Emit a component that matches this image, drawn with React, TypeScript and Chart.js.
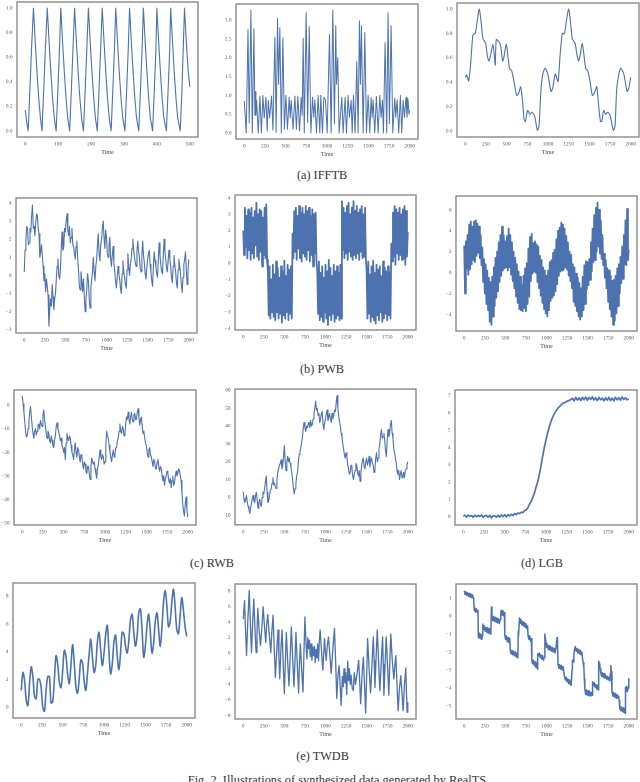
import React, { useEffect, useRef } from "react";
import { Chart, registerables } from "chart.js";

Chart.register(...registerables);

type Pair = [number, number];

const LINE_COLOR = "#4c72b0";
const SERIF = '"Liberation Serif", serif';

const ifftb1Points: Pair[] = [[0,.17],[4,.08],[9,0],[14,.32],[19,.66],[25,1],[31,.7],[36,.47],[41,.27],[46,.11],[51,0],[56,.32],[61,.66],[67,1],[73,.7],[78,.47],[83,.27],[88,.11],[94,0],[99,.32],[104,.66],[108,1],[114,.7],[119,.47],[124,.27],[129,.11],[135,0],[140,.32],[145,.66],[150,1],[156,.7],[161,.47],[166,.27],[171,.11],[177,0],[182,.32],[187,.66],[192,1],[198,.7],[203,.47],[208,.27],[213,.11],[219,0],[224,.32],[229,.66],[234,1],[240,.7],[245,.47],[250,.27],[255,.11],[261,0],[266,.32],[271,.66],[275,1],[281,.7],[286,.47],[291,.27],[296,.11],[303,0],[308,.32],[313,.66],[317,1],[323,.7],[328,.47],[333,.27],[338,.11],[345,0],[350,.32],[355,.66],[359,1],[365,.7],[370,.47],[375,.27],[380,.11],[387,0],[392,.32],[397,.66],[400,1],[406,.7],[411,.47],[416,.27],[421,.11],[429,0],[434,.32],[439,.66],[442,1],[448,.7],[453,.47],[458,.27],[463,.11],[471,0],[476,.32],[480,.66],[484,1],[490,.7],[495,.5],[500,.36]];

const ifftb2Points: Pair[] = [[0,.85],[24,0],[45,2.75],[60,.27],[80,3.27],[97,0],[117,2.77],[128,.47],[137,1.1],[141,.47],[149,.87],[169,0],[189,.98],[207,0],[225,1],[241,.4],[262,.95],[277,.05],[290,.87],[306,.4],[330,.98],[346,.08],[370,2.55],[385,.02],[402,3.05],[415,1.3],[430,2.8],[448,0],[467,2.53],[485,.1],[503,1],[522,.1],[543,.95],[555,.4],[567,.87],[590,.1],[612,.98],[630,.1],[648,.98],[668,.05],[688,.95],[700,.47],[712,2.52],[725,0],[748,3.2],[766,.28],[785,2.83],[805,0],[825,.95],[840,.42],[853,.88],[873,0],[893,1],[913,0],[925,1],[945,0],[962,.95],[982,.88],[1002,0],[1030,2.62],[1050,0],[1070,3.27],[1090,.25],[1106,2.85],[1115,1.3],[1130,2],[1147,0],[1179,.95],[1195,0],[1219,.95],[1235,0],[1255,1],[1271,.42],[1292,.87],[1304,0],[1320,1],[1340,0],[1360,1.9],[1376,0],[1392,2.98],[1404,1.3],[1416,2.85],[1437,0],[1457,2.67],[1477,0],[1497,1],[1517,0],[1533,.94],[1545,.42],[1557,.88],[1577,0],[1597,.97],[1618,0],[1638,1],[1654,.42],[1670,.87],[1682,0],[1702,2.4],[1722,0],[1738,3.2],[1754,.25],[1775,2.85],[1795,0],[1819,.93],[1831,.42],[1847,.88],[1867,0],[1887,1],[1903,0],[1920,.87],[1936,.42],[1955,.95],[1967,.42],[1979,.9],[1991,.5],[2000,.6]];

const ifftb3Points: Pair[] = [[0,.44],[16,.46],[40,.41],[65,.55],[93,.79],[121,.8],[145,.905],[169,1],[194,.88],[214,.757],[246,.72],[266,.62],[286,.573],[310,.635],[335,.708],[351,.62],[363,.54],[375,.75],[407,.73],[427,.7],[452,.573],[468,.61],[496,.714],[516,.61],[536,.51],[560,.495],[589,.405],[621,.29],[645,.31],[669,.362],[690,.257],[710,.1],[726,.076],[754,.168],[782,.135],[806,.154],[839,.12],[871,.005],[891,.04],[915,.338],[935,.46],[964,.514],[996,.47],[1036,.324],[1056,.35],[1089,.468],[1121,.405],[1145,.61],[1173,.8],[1198,.797],[1226,.92],[1250,1],[1274,.88],[1294,.757],[1327,.72],[1351,.62],[1371,.573],[1391,.635],[1415,.716],[1435,.62],[1456,.513],[1480,.495],[1508,.405],[1536,.29],[1560,.31],[1589,.362],[1609,.23],[1633,.08],[1649,.076],[1673,.168],[1698,.135],[1722,.154],[1750,.13],[1790,.005],[1810,.04],[1830,.338],[1855,.46],[1879,.514],[1915,.47],[1956,.324],[1976,.35],[2000,.44]];

const pwb1Values = [
  .2,1.4,1.9,2.7,2.6,1.7,1.8,2.6,2.4,3.3,3.9,2.6,2.7,2.2,2.9,3.4,3.3,2.6,2.3,1,
  1.3,1.7,1.1,.5,-.3,.1,-.9,-.2,-.6,-1.1,-2.8,-1.9,-1.3,-1.7,-.5,-1.2,-1.9,-1.3,-1,-.2,
  .5,.9,0,-.2,.3,1.5,2.4,1.4,1.5,2.6,2.4,3,3.4,2.5,2.2,2.7,1.8,2.1,2.6,1.7,
  1.6,1.2,.9,1.6,1.9,.9,.3,-.6,-.8,.2,-.3,-.9,-.2,-1.1,-2,-1.3,-.8,.1,-.3,-1.3,
  -1.8,-.7,-.2,.2,1,.2,-.3,.5,.9,1.7,2.3,1.2,.8,1.7,2,2.6,3,2.1,1.5,2.5,
  2.1,1.2,1,1.7,2.1,1,.5,1.1,1.6,.7,.2,-.3,-.7,-.1,.5,.1,-.2,-.7,-1,.1,
  .8,.2,-.1,-.5,-.7,.3,1.2,.5,0,.6,.9,1.5,2,1.4,1,.7,.5,1.3,1.9,1.3,
  1,.4,.2,1.1,1.9,1.1,.7,.1,-.2,.4,.9,1.2,1.4,.6,.2,-.3,-.6,.5,1.3,.8,
  .5,.1,-.1,.9,1.8,1.1,.6,.2,.1,1.1,2,1.3,.9,.4,.2,.9,1.4,.9,.5,-.1,
  -.4,.5,1.1,.6,.2,-.4,-.7,.3,.9,.5,.1,-.5,-.95,-.1,.6,.9,1.3,.3,-.5,.2,.9,
];

const pwb2Values = [
  2,.5,3.4,1,2.9,.3,3.3,.8,3.1,.2,3.4,.6,2.8,.3,3.2,1.1,3.7,.4,3,.2,3.3,.7,3.2,-.2,2.8,.5,3.4,.3,3.6,.2,
  -.5,-3.2,-.2,-3.4,-1,-3,-.1,-3.3,-.7,-3.5,.1,-3,-.3,-3.4,-.9,-3.1,-.2,-3.65,-.5,-3.2,.15,-3.4,-.8,-3,-.1,-3.5,-.4,-3.1,-.2,-3.4,
  1.8,.3,3.2,.7,3.4,.2,2.9,.9,3.5,.3,3.1,.1,3.4,.6,3,.4,3.5,.2,3.2,.8,3.4,.1,2.9,.5,3.3,-.2,3,.6,3.1,.1,
  -.4,-3.1,.1,-3.5,-.6,-3.3,-.2,-3.6,-.9,-3,-.1,-3.4,-.5,-3.8,.2,-3.2,-.3,-3.5,-.8,-3.1,-.1,-3.6,-.5,-3.4,-.2,-3.2,-.6,-3.5,-.1,-3.4,
  3.8,.8,3.4,.3,3.1,.6,3.5,.2,3.7,.7,3,.4,3.4,.2,3.8,.5,3.2,.3,3.5,.6,3.1,.2,3.3,.7,3.5,.3,3,.4,3.4,.3,
  -.5,-3.4,.1,-3.1,-.7,-3.6,-.2,-3.3,.15,-3.5,-.6,-3.7,-.1,-3.2,-.4,-3.5,-.2,-3,-.8,-3.6,.1,-3.4,-.3,-3.1,-.5,-3.5,-.2,-3.2,-.6,-3.4,
  1.2,.1,3.1,.4,3.5,-.1,3.3,.6,3.1,.2,3.4,.5,3,.2,3.3,.3,3.5,-.1,3.2,.4,1.9,
];

const pwb3Values = [
  2.6,-2,3,.4,3.6,-.2,4.6,.3,4.9,.8,4.4,1.2,4.9,1,5,1.6,4.7,1.9,4.4,1.4,3.6,.7,
  2.4,-.9,1.3,-2,.8,-3,.2,-3.6,-.5,-4.7,-.9,-5,-.4,-4.2,.5,-3.2,1.4,-2.4,
  2,-1.8,2.9,-.9,3.6,-.3,4.4,.2,3.6,.4,3,.5,3.5,.2,4.2,.5,3.6,-.2,2.9,-.8,
  2,-1.5,1.4,-2.3,.8,-2.9,.1,-3.5,-.4,-3.6,-1.2,-3.7,-.3,-3.4,.4,-3.7,.9,-3,2.3,-2.3,
  3.4,-.8,3.7,-.1,2.8,.1,3,0,2.7,-.9,2.5,-1.5,1.6,-2.2,1.2,-2.9,.5,-3.5,.2,-3.9,
  -.3,-4.2,.2,-3.6,1,-2.7,1.2,-2.4,1.9,-2.2,2.2,-1.8,3.2,-1.1,4,-.3,4.3,.1,4.8,.2,
  4.6,.3,4.2,.5,3.5,.3,2.9,-.3,2,-.8,1.7,-1.5,.8,-2.8,.5,-3.2,-.1,-3.7,-.5,-4.2,
  -1,-4.5,-1.5,-4.2,-.4,-3.6,.7,-3,1.1,-1.6,1,-1.2,1.3,-.7,2.9,.1,4.2,1,5.5,1.2,
  6.2,2,6.7,2.5,6,1.8,5,1.3,3.6,.7,1.8,-.5,1.2,-1.5,.4,-2.8,.2,-3.5,-.3,-4.2,
  -.8,-5,-.7,-4.6,-.3,-3.9,.4,-3.2,.8,-2,1.5,-1,2.5,-.6,3.6,.8,5,.7,6.1,1.2,2.2,
];

const rwb1Values = [
  4,.5,-3,-7,-11,-13.5,-13,-10,-7,-3,-.5,-5,-9,-12,-14,-11,-10,-12.5,-11,-8.5,
  -8,-10,-6.5,-8,-9,-4,-2,-6,-9,-12,-14,-11,-12,-15,-16,-13,-15,-17,-18,-15,
  -13,-9,-7.5,-10,-11,-13,-15,-14,-17,-18,-20,-18,-23,-16,-12,-14,-15,-13,-14,-17,
  -20,-21,-23,-19,-16,-20,-22,-18,-19,-22,-24,-21,-22,-25,-27,-24,-25,-28,-29,-26,
  -26,-29,-31.5,-26,-22.5,-24,-25,-24,-27,-29,-31,-27,-25,-22,-19,-22,-23,-21,-22,-25,
  -24,-17,-11,-13,-14,-17,-20,-22,-24,-21,-19,-22,-21,-18,-18,-15,-14,-11,-8,-11,
  -12,-9,-10,-13,-12.5,-8,-5,-6,-3,-6,-8,-5,-3,-6,-7,-4,-3.5,-6,-6,-3,
  -1.5,-5,-8.5,-6,-5,-9,-12,-11,-14,-16,-17,-20,-22,-19,-18,-21,-22,-24,-26,-23,
  -24,-27,-27,-24,-23,-26,-28,-26,-27,-30,-32,-30,-34,-31,-30,-28,-29,-32,-33,-31,
  -35,-32,-30,-34,-33,-30,-28,-30,-29,-27,-27.5,-30,-32,-37,-42,-45,-47,-42,-39,-44,-47.5,
];

const rwb2Values = [
  3,-1,-3,-1,1,-3,-5,-7,-9,-6,-3,-1,1,-2,-3,1,3,-2,-6,-3,
  -1,-4,-5,0,3,2,5,9,12,3,-3,-2,1,4,5,8,11,7,8,6,
  5,10,14,16,18,19,21,16,18,23,29,20,15,20,23,20,22,19,17,14,
  10,5,2,5,8,12,14,20,24,26,28,31,34,39,42,39,37,40,39,41,
  42,39,43,40,41,44,47,50,54,49,50,46,47,42,44,47,48,41,38,42,
  44,47,49,43,45,47,44,42,47,44,46,49,48,53,57,50,46,43,40,36,
  34,30,27,24,22,25,23,18,16,13,14,18,17,12,10,13,15,19,18,14,
  12,15,9,14,18,21,22,17,16,20,22,18,20,23,17,21,22,19,18,14,
  15,22,25,20,22,27,30,35,38,33,34,36,32,26,23,32,38,34,36,41,
  43,36,33,27,25,22,19,15,13,15,10,13,15,11,12,14,11,15,16,18,20,
];

const lgbValues = [.02,.06,-.04,.08,0,.05,-.05,.07,-.02,.06,0,.08,-.06,.04,.05,-.05,.06,-.08,.03,.04,-.05,.07,-.04,.08,-.01,.09,-.03,.1,.02,.12,.05,.16,.1,.2,.16,.24,.22,.33,.36,.5,.7,.85,1.1,1.35,1.7,2,2.45,2.95,3.5,4,4.45,4.85,5.2,5.5,5.75,5.95,6.1,6.25,6.35,6.45,6.55,6.6,6.62,6.7,6.72,6.78,6.85,6.7,6.9,6.75,6.88,6.72,6.9,6.76,6.92,6.74,6.9,6.78,6.93,6.75,6.88,6.72,6.9,6.76,6.86,6.7,6.88,6.74,6.9,6.72,6.86,6.7,6.9,6.76,6.88,6.74,6.92,6.78,6.88,6.76,6.82];

const twdb1Values = [1.2,2.5,1.9,.5,.1,1.7,2.9,2.2,.8,.6,2,2,1.4,0,-.3,1.2,2.2,2.2,.3,.4,2,3.7,3.1,1.8,1.4,2.6,4.1,3.7,2.4,1.7,3,4.5,3.2,1.5,1,2,3.4,3.2,1.9,1.2,2.4,3.8,4.9,3.6,2.5,3,4.7,5.4,4.1,3,3.9,5.2,5.9,4,2.4,3.1,4.7,5.2,3.7,2.7,3.9,5.4,5.3,4.4,3.9,4.8,6.3,6.7,5.4,4.4,5.1,6.8,7.1,5.6,3.6,4.4,5.9,6.7,5.4,3.9,4.6,6.2,6.8,5.6,4.4,5.7,7.6,8.4,7.3,5.8,6.2,7.6,8.5,7.2,5.6,5.3,6.6,7.9,7,5.8,5.1];

const twdb2Points: Pair[] = [[0,4.4],[16,6.8],[28,3],[40,-.3],[55,4],[73,8.1],[88,3.5],[100,.1],[115,4],[129,7],[143,3],[157,.1],[167,2.5],[177,5.8],[193,3],[210,1],[226,3.2],[242,6],[258,3.5],[274,1.4],[286,3.8],[298,5],[316,2.5],[335,.1],[349,3],[363,4.9],[377,.5],[391,-3.1],[407,.2],[423,3],[434,-.5],[444,-3.3],[458,.5],[472,3],[486,-1.5],[500,-5.2],[512,-1],[524,2.7],[540,-1],[556,-4.2],[570,-.5],[585,3.4],[601,-.7],[617,-4.3],[629,-1],[641,2.7],[657,-1.5],[673,-5.1],[683,-1.5],[694,1.2],[710,-2],[726,-5],[738,0],[750,4.7],[762,1.5],[774,-.7],[785,2],[795,.6],[805,1.7],[815,-.4],[825,1.2],[835,-.9],[845,.8],[855,-.3],[865,.9],[875,-1.2],[885,.5],[895,-.6],[905,1.2],[915,-1],[925,1.5],[935,3],[950,.5],[968,-2.2],[978,0],[988,1.9],[998,.2],[1008,-.9],[1022,1],[1036,2.1],[1052,0],[1069,-2.6],[1089,.5],[1109,3.2],[1123,-1],[1137,-5.8],[1150,-3],[1165,-1.6],[1178,-4],[1190,-6.7],[1205,-3],[1215,-4.3],[1225,-2],[1235,-3.8],[1245,-2.5],[1258,-5.3],[1270,-1],[1280,-3.5],[1290,-2],[1300,-4],[1310,-2.8],[1325,-4.5],[1339,-4.8],[1350,-2.5],[1365,-4],[1385,-2.5],[1403,-.9],[1415,-3.5],[1427,-6.5],[1443,-3],[1460,-.5],[1474,-4],[1488,-7.7],[1500,-3],[1512,1.9],[1530,-2],[1548,-5.1],[1565,-1.5],[1581,2.1],[1591,-1],[1601,-4.4],[1615,-.5],[1629,3],[1645,-1],[1661,-4.8],[1678,-1],[1694,2.1],[1702,-1.5],[1710,-5.4],[1724,-1.5],[1738,2.1],[1754,-1.5],[1770,-5.4],[1782,-1],[1794,2.5],[1812,-1],[1831,-3.3],[1843,-1.5],[1855,-.3],[1869,-4],[1883,-7.4],[1899,-4.5],[1915,-2.9],[1929,-5],[1944,-7.4],[1960,-4],[1976,-1.9],[1984,-5],[1992,-7.6],[2000,-6.3]];

const twdb3Points: Pair[] = [[0,1.4],[10,1.2],[20,1.35],[30,1.15],[40,1.3],[50,1.1],[60,1.25],[70,1.05],[80,1.22],[90,1.02],[100,1.18],[109,1],[115,.95],[122,.3],[130,.45],[140,.22],[150,.4],[160,.2],[167,.3],[172,-1.2],[182,-.95],[192,-1.25],[202,-1],[212,-1.3],[222,-1.05],[226,-.45],[236,-.75],[246,-.55],[256,-.85],[266,-.65],[276,-.92],[286,-.65],[296,-.95],[306,-.7],[316,-1],[324,-.85],[331,.5],[337,-.05],[347,-.25],[357,-.02],[367,-.3],[377,-.07],[387,-.33],[397,-.1],[407,-.37],[417,-.15],[427,-.42],[437,-.2],[444,.1],[450,.33],[460,.05],[470,.3],[480,.02],[488,.2],[493,-1.05],[503,-1.3],[513,-1.1],[523,-1.42],[533,-1.2],[543,-1.48],[553,-1.25],[560,-1.9],[570,-2.1],[580,-1.9],[590,-2.15],[600,-1.95],[610,-2.2],[620,-2],[630,-2.27],[640,-2.05],[652,-2.32],[657,-.85],[660,-1.1],[672,-.1],[680,-.4],[690,-.2],[700,-.5],[710,-.3],[720,-.55],[730,-.35],[740,-.62],[750,-.42],[760,-.7],[770,-.55],[776,-1.1],[786,-1.3],[796,-1.1],[806,-1.4],[816,-1.25],[822,-2.5],[832,-2.65],[842,-2.45],[852,-2.75],[862,-2.55],[872,-2.85],[882,-2.65],[890,-2.95],[893,-2.1],[903,-2.2],[913,-2.05],[923,-2.3],[933,-2.15],[943,-2.4],[953,-2.2],[963,-2.45],[973,-2.3],[980,-1],[986,-1.2],[994,-1.5],[1002,-1.75],[1012,-1.6],[1022,-1.85],[1032,-1.65],[1042,-1.9],[1052,-1.7],[1062,-1.95],[1072,-1.75],[1082,-2],[1092,-1.8],[1102,-2.05],[1112,-1.85],[1120,-1.6],[1128,-1.2],[1134,-1.5],[1140,-2.7],[1150,-2.9],[1160,-2.7],[1170,-2.95],[1180,-2.75],[1190,-3],[1200,-2.8],[1210,-3.05],[1220,-3.4],[1230,-3.55],[1240,-3.4],[1250,-3.65],[1260,-3.5],[1270,-3.75],[1280,-3.55],[1290,-3.8],[1300,-3.85],[1310,-3],[1315,-2.45],[1325,-2.55],[1332,-2.2],[1340,-1.85],[1350,-1.7],[1360,-1.95],[1370,-1.8],[1380,-2.05],[1390,-1.85],[1400,-2.1],[1410,-1.9],[1420,-2.15],[1430,-2],[1438,-2.35],[1446,-2.6],[1454,-2.85],[1460,-3.5],[1466,-4.05],[1476,-4.35],[1486,-4.1],[1496,-4.4],[1506,-4.15],[1516,-4.42],[1526,-4.2],[1536,-4.45],[1546,-4.25],[1554,-4.4],[1560,-3.65],[1570,-3.85],[1580,-3.7],[1590,-3.95],[1600,-3.8],[1610,-4.05],[1620,-3.85],[1627,-4.1],[1631,-2.5],[1637,-2.75],[1645,-2.6],[1653,-2.95],[1661,-3.2],[1670,-3.35],[1680,-3.15],[1690,-3.4],[1700,-3.2],[1710,-3.45],[1720,-3.3],[1730,-3.5],[1740,-3.35],[1750,-3.55],[1760,-3.4],[1770,-3.6],[1776,-3.2],[1782,-2.75],[1788,-3.1],[1796,-4.2],[1806,-4.45],[1816,-4.25],[1826,-4.5],[1836,-4.3],[1846,-4.55],[1856,-4.35],[1866,-4.55],[1876,-4.45],[1884,-4.7],[1890,-5.1],[1900,-5.25],[1910,-5.05],[1920,-5.3],[1930,-5.1],[1940,-5.35],[1950,-5.15],[1956,-5.4],[1960,-3.95],[1968,-4.15],[1976,-3.9],[1984,-4.2],[1992,-4],[2000,-3.45]];

const atStep = (values: number[], step: number): Pair[] => values.map((v, i) => [i * step, v]);

const shortTimeTicks = [0, 100, 200, 300, 400, 500];
const longTimeTicks = [0, 250, 500, 750, 1000, 1250, 1500, 1750, 2000];
const unitTicks = [0, 0.2, 0.4, 0.6, 0.8, 1];
const ifftb2Ticks = [0, 0.5, 1, 1.5, 2, 2.5, 3];
const pwb1Ticks = [-3, -2, -1, 0, 1, 2, 3, 4];
const pwb2Ticks = [-4, -3, -2, -1, 0, 1, 2, 3, 4];
const pwb3Ticks = [-4, -2, 0, 2, 4, 6];
const rwb1Ticks = [-50, -40, -30, -20, -10, 0];
const rwb2Ticks = [-10, 0, 10, 20, 30, 40, 50, 60];
const lgbTicks = [0, 1, 2, 3, 4, 5, 6, 7];
const twdb1Ticks = [0, 2, 4, 6, 8];
const twdb2Ticks = [-8, -6, -4, -2, 0, 2, 4, 6, 8];
const twdb3Ticks = [-5, -4, -3, -2, -1, 0, 1];

const captions = [
  { text: "(a) IFFTB", cx: 322, cy: 175 },
  { text: "(b) PWB", cx: 322, cy: 369 },
  { text: "(c) RWB", cx: 212, cy: 563 },
  { text: "(d) LGB", cx: 542, cy: 563 },
  { text: "(e) TWDB", cx: 322.5, cy: 756 },
];
const figureCaption = "Fig. 2. Illustrations of synthesized data generated by RealTS.";

type PanelSpec = {
  points: Pair[];
  box: [number, number, number, number];
  xRange: [number, number];
  xTicks: number[];
  yRange: [number, number];
  yTicks: number[];
  decimals: number;
  width: number;
  tension?: number;
};

const LONG_X: [number, number] = [-100, 2100];

const panels: PanelSpec[] = [
  { points: ifftb1Points, box: [16.5, 1.5, 198, 137], xRange: [-25, 525], xTicks: shortTimeTicks, yRange: [-0.05, 1.05], yTicks: unitTicks, decimals: 1, width: 1.1 },
  { points: ifftb2Points, box: [236, 3.5, 418, 138.5], xRange: LONG_X, xTicks: longTimeTicks, yRange: [-0.16, 3.43], yTicks: ifftb2Ticks, decimals: 1, width: 1 },
  { points: ifftb3Points, box: [457, 2.5, 639, 137], xRange: LONG_X, xTicks: longTimeTicks, yRange: [-0.05, 1.05], yTicks: unitTicks, decimals: 1, width: 1.1, tension: 0.25 },
  { points: atStep(pwb1Values, 10), box: [16, 197.5, 197, 332.5], xRange: LONG_X, xTicks: longTimeTicks, yRange: [-3.18, 4.28], yTicks: pwb1Ticks, decimals: 0, width: 1.1 },
  { points: atStep(pwb2Values, 10), box: [234.5, 195, 416, 330], xRange: LONG_X, xTicks: longTimeTicks, yRange: [-4.1, 4.18], yTicks: pwb2Ticks, decimals: 0, width: 1.8 },
  { points: atStep(pwb3Values, 10), box: [455.5, 195.5, 637, 331], xRange: LONG_X, xTicks: longTimeTicks, yRange: [-5.59, 7.33], yTicks: pwb3Ticks, decimals: 0, width: 1.8 },
  { points: atStep(rwb1Values, 10), box: [14, 390, 196, 525], xRange: LONG_X, xTicks: longTimeTicks, yRange: [-50.85, 6.48], yTicks: rwb1Ticks, decimals: 0, width: 1.1 },
  { points: atStep(rwb2Values, 10), box: [234.5, 389, 416, 524.5], xRange: LONG_X, xTicks: longTimeTicks, yRange: [-15.4, 60.75], yTicks: rwb2Ticks, decimals: 0, width: 1.1 },
  { points: atStep(lgbValues, 20), box: [455, 390, 637, 525], xRange: LONG_X, xTicks: longTimeTicks, yRange: [-0.5, 7.33], yTicks: lgbTicks, decimals: 0, width: 1.7 },
  { points: atStep(twdb1Values, 20), box: [13, 583, 195, 718], xRange: LONG_X, xTicks: longTimeTicks, yRange: [-0.79, 8.96], yTicks: twdb1Ticks, decimals: 0, width: 1.6, tension: 0.35 },
  { points: twdb2Points, box: [234.5, 583.5, 416, 718.5], xRange: LONG_X, xTicks: longTimeTicks, yRange: [-8.47, 8.94], yTicks: twdb2Ticks, decimals: 0, width: 1.3 },
  { points: twdb3Points, box: [455.5, 584, 637, 719], xRange: LONG_X, xTicks: longTimeTicks, yRange: [-5.72, 1.78], yTicks: twdb3Ticks, decimals: 0, width: 1.5 },
];

const GUTTER_LEFT = 18;
const GUTTER_TOP = 2;
const GUTTER_RIGHT = 2;
const GUTTER_BOTTOM = 24;

const frame = {
  id: "frame",
  afterDatasetsDraw(chart: any) {
    const { ctx, chartArea: a } = chart;
    ctx.save();
    ctx.strokeStyle = "#7f7f7f";
    ctx.lineWidth = 1.3;
    ctx.strokeRect(a.left, a.top, a.right - a.left, a.bottom - a.top);
    ctx.restore();
  },
};

function Panel({ spec }: { spec: PanelSpec }) {
  const ref = useRef<HTMLCanvasElement | null>(null);
  const [l, t, r, b] = spec.box;
  const w = r - l + GUTTER_LEFT + GUTTER_RIGHT;
  const h = b - t + GUTTER_TOP + GUTTER_BOTTOM;
  useEffect(() => {
    const tickFont = { family: SERIF, size: 5.3 };
    const chart = new Chart(ref.current!, {
      type: "line",
      data: {
        datasets: [
          {
            data: spec.points.map(([x, y]) => ({ x, y })),
            borderColor: LINE_COLOR,
            borderWidth: spec.width,
            borderJoinStyle: "round",
            pointRadius: 0,
            tension: spec.tension ?? 0,
            fill: false,
          },
        ],
      },
      options: {
        animation: false,
        responsive: false,
        devicePixelRatio: 2,
        layout: { padding: { left: 0, top: GUTTER_TOP, right: GUTTER_RIGHT, bottom: 0 } },
        plugins: { legend: { display: false }, tooltip: { enabled: false }, title: { display: false } },
        scales: {
          x: {
            type: "linear",
            min: spec.xRange[0],
            max: spec.xRange[1],
            grid: { display: false, drawTicks: false },
            border: { display: false },
            afterBuildTicks: (s: any) => {
              s.ticks = spec.xTicks.map((value) => ({ value }));
            },
            ticks: {
              autoSkip: false,
              maxRotation: 0,
              padding: 4,
              color: "#555555",
              font: tickFont,
              callback: (v: any) => String(v),
            },
            title: { display: true, text: "Time", color: "#444444", font: { family: SERIF, size: 6 }, padding: { top: 0, bottom: 5 } },
            afterFit: (s: any) => {
              s.height = GUTTER_BOTTOM;
              s.paddingLeft = 0;
              s.paddingRight = 0;
            },
          },
          y: {
            type: "linear",
            min: spec.yRange[0],
            max: spec.yRange[1],
            grid: { display: false, drawTicks: false },
            border: { display: false },
            afterBuildTicks: (s: any) => {
              s.ticks = spec.yTicks.map((value) => ({ value }));
            },
            ticks: {
              autoSkip: false,
              padding: 4.5,
              color: "#555555",
              font: tickFont,
              callback: (v: any) => Number(v).toFixed(spec.decimals).replace("-", "\u2212"),
            },
            afterFit: (s: any) => {
              s.width = GUTTER_LEFT;
              s.paddingTop = 0;
              s.paddingBottom = 0;
            },
          },
        },
      } as any,
      plugins: [frame],
    });
    return () => chart.destroy();
  }, []);
  return (
    <canvas
      ref={ref}
      width={w}
      height={h}
      style={{ position: "absolute", left: l - GUTTER_LEFT, top: t - GUTTER_TOP, width: w, height: h }}
    />
  );
}

export default function App() {
  return (
    <div
      style={{
        position: "absolute",
        left: 0,
        top: 0,
        width: 640,
        height: 782,
        overflow: "hidden",
        background: "#ffffff",
        fontFamily: SERIF,
        color: "#333333",
        filter: "blur(0.3px)",
      }}
    >
      {panels.map((spec, i) => (
        <Panel key={i} spec={spec} />
      ))}
      {captions.map((c) => (
        <div
          key={c.text}
          style={{
            position: "absolute",
            left: c.cx - 100,
            top: c.cy - 8,
            width: 200,
            height: 16,
            lineHeight: "16px",
            textAlign: "center",
            fontSize: 12.3,
            whiteSpace: "pre",
          }}
        >
          {c.text}
        </div>
      ))}
      <div
        style={{
          position: "absolute",
          left: 38.5,
          top: 772,
          width: 600,
          height: 16,
          lineHeight: "16px",
          textAlign: "center",
          fontSize: 12.35,
          whiteSpace: "pre",
        }}
      >
        {figureCaption}
      </div>
    </div>
  );
}
